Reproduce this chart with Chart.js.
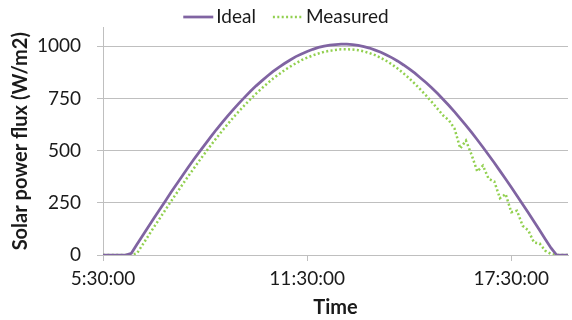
<!DOCTYPE html>
<html>
<head>
<meta charset="utf-8">
<script src="https://cdn.jsdelivr.net/npm/chart.js@4"></script>
<style>html,body{margin:0;background:#fff}</style>
</head>
<body>
<canvas id="chart" width="572" height="320"></canvas>
<script>
// 10-minute samples, 5:30:00 .. 19:10:00
const times = [
  '5:30:00','5:40:00','5:50:00','6:00:00','6:10:00','6:20:00','6:30:00','6:40:00','6:50:00',
  '7:00:00','7:10:00','7:20:00','7:30:00','7:40:00','7:50:00','8:00:00','8:10:00','8:20:00',
  '8:30:00','8:40:00','8:50:00','9:00:00','9:10:00','9:20:00','9:30:00','9:40:00','9:50:00',
  '10:00:00','10:10:00','10:20:00','10:30:00','10:40:00','10:50:00','11:00:00','11:10:00','11:20:00',
  '11:30:00','11:40:00','11:50:00','12:00:00','12:10:00','12:20:00','12:30:00','12:40:00','12:50:00',
  '13:00:00','13:10:00','13:20:00','13:30:00','13:40:00','13:50:00','14:00:00','14:10:00','14:20:00',
  '14:30:00','14:40:00','14:50:00','15:00:00','15:10:00','15:20:00','15:30:00','15:40:00','15:50:00',
  '16:00:00','16:10:00','16:20:00','16:30:00','16:40:00','16:50:00','17:00:00','17:10:00','17:20:00',
  '17:30:00','17:40:00','17:50:00','18:00:00','18:10:00','18:20:00','18:30:00','18:40:00','18:50:00',
  '19:00:00','19:10:00'
];
const ideal = [
  0,0,0,0,0,8,51,93,135,177,218,259,300,340,380,419,457,494,530,566,601,634,666,697,727,756,784,
  810,834,857,879,899,917,934,950,963,975,985,994,1000,1005,1008,1010,1010,1007,1004,998,991,981,
  971,958,944,928,910,891,871,848,825,800,773,745,716,685,653,621,587,552,516,479,442,403,364,324,
  284,243,202,160,118,76,34,0,0,0
];
const measured = [
  0,0,0,0,0,0,8,50,92,134,175,216,257,297,337,376,414,452,489,525,560,594,627,659,689,718,746,
  773,798,822,845,865,885,902,918,933,945,956,965,973,978,982,985,985,984,981,975,967,957,944,
  929,912,892,870,846,820,792,763,732,700,668,645,605,510,548,480,400,428,365,352,272,292,205,
  212,140,118,60,55,20,5,0,0,0
];
const yTicks = [0, 250, 500, 750, 1000];
const xTickEvery = 36; // one label every 6 hours

const textColor = '#1a1a1a';
const gridColor = '#bfbfbf';
Chart.defaults.font.family = 'Lato';
Chart.defaults.color = textColor;

// legend drawn above the plot, centred on the canvas
const topLegend = {
  id:'topLegend',
  afterDraw(chart){
    const ctx = chart.ctx;
    const lineLen = 30, gap = 3, between = 17, y = 17;
    ctx.save();
    ctx.font = '19px Lato';
    ctx.textBaseline = 'middle';
    const sets = chart.data.datasets;
    let total = 0;
    sets.forEach((ds,i)=>{ total += lineLen + gap + ctx.measureText(ds.label).width + (i ? between : 0); });
    let x = (chart.width - total)/2;
    sets.forEach(ds=>{
      ctx.strokeStyle = ds.borderColor;
      ctx.lineWidth = ds.borderWidth;
      ctx.setLineDash(ds.borderDash || []);
      ctx.beginPath(); ctx.moveTo(x, y); ctx.lineTo(x + lineLen, y); ctx.stroke();
      ctx.setLineDash([]);
      ctx.fillStyle = textColor;
      ctx.fillText(ds.label, x + lineLen + gap, y);
      x += lineLen + gap + ctx.measureText(ds.label).width + between;
    });
    ctx.restore();
  }
};

new Chart(document.getElementById('chart'), {
  type:'line',
  data:{
    labels:times,
    datasets:[
      {label:'Ideal', data:ideal, borderColor:'#8064a2', borderWidth:2.75,
       pointRadius:0, tension:0, fill:false},
      {label:'Measured', data:measured, borderColor:'#92d050', borderWidth:2.5,
       borderDash:[2,2.4], pointRadius:0, tension:0, fill:false}
    ]
  },
  options:{
    responsive:false, animation:false,
    layout:{padding:{top:26,right:4,left:0,bottom:0}},
    plugins:{legend:{display:false}, tooltip:{enabled:false}},
    scales:{
      x:{
        grid:{drawOnChartArea:false, tickLength:6, color:gridColor},
        border:{color:gridColor},
        ticks:{autoSkip:false, maxRotation:0, padding:6, font:{size:19},
          callback(v,i){ return i % xTickEvery === 0 ? this.getLabelForValue(v) : null; }},
        title:{display:true, text:'Time', font:{size:20, weight:'bold'}, padding:{top:0,bottom:0}},
        afterFit(s){ s.height = 65; }
      },
      y:{
        min:0, max:1090,
        afterBuildTicks(s){ s.ticks = yTicks.map(v=>({value:v})); },
        grid:{color:gridColor, tickLength:6},
        border:{color:gridColor},
        ticks:{padding:16, font:{size:19}, callback:v=>String(v)},
        title:{display:true, text:'Solar power flux (W/m2)', font:{size:20, weight:'bold'}, padding:{top:9,bottom:0}},
        afterFit(s){ s.width = 103; }
      }
    }
  },
  plugins:[topLegend]
});
</script>
</body>
</html>
